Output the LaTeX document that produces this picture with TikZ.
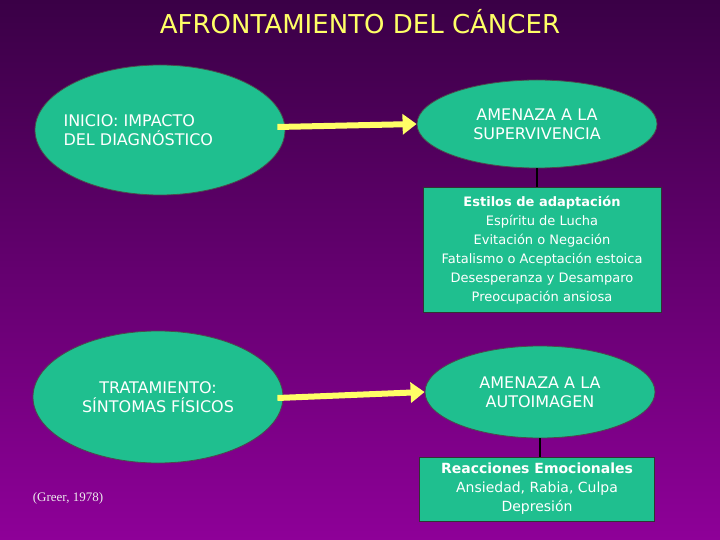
\documentclass[tikz,border=0pt]{standalone}
\usepackage{fontspec}
\setmainfont{DejaVu Sans}
\newfontfamily\serifgreer{Liberation Serif}
\usetikzlibrary{shapes.geometric,arrows.meta}
\definecolor{bgtop}{HTML}{3A0046}
\definecolor{bgbot}{HTML}{8E0098}
\definecolor{teal}{HTML}{1FBF8F}
\definecolor{ttl}{HTML}{FFFF66}
\definecolor{arr}{HTML}{FFFF66}
\tikzset{
 ell/.style={ellipse,fill=teal,draw=black!70,line width=0.8pt,text=white,align=center,font=\fontsize{16}{19}\selectfont,inner sep=0pt},
 bx/.style={rectangle,fill=teal,draw=black!80,line width=1pt,text=white,align=center,inner sep=2pt},
 yarr/.style={draw=arr,line width=6pt,-{Triangle[length=14pt,width=20pt]}},
 lnk/.style={draw=black,line width=1.2pt}
}
\begin{document}
\begin{tikzpicture}[x=1pt,y=-1pt]
\shade[top color=bgtop,bottom color=bgbot] (0,0) rectangle (720,540);
\useasboundingbox (0,0) rectangle (720,540);
\node (title) at (360,22) {\textcolor{ttl}{\fontsize{26}{30}\selectfont AFRONTAMIENTO DEL CÁNCER}};
\node[ell,minimum width=250pt,minimum height=130pt] (e1) at (160,130) {};
\node[text=white,align=left,font=\fontsize{16}{19}\selectfont,anchor=west] (t1) at (60,130) {INICIO: IMPACTO\\DEL DIAGNÓSTICO};
\node[ell,minimum width=240pt,minimum height=88pt] (e2) at (537,124) {AMENAZA A LA\\SUPERVIVENCIA};
\node[bx,minimum width=238pt,minimum height=125pt,font=\fontsize{13}{19}\selectfont] (b1) at (542,250) {{\bfseries Estilos de adaptación}\\Espíritu de Lucha\\Evitación o Negación\\Fatalismo o Aceptación estoica\\Desesperanza y Desamparo\\Preocupación ansiosa};
\node[ell,minimum width=250pt,minimum height=132pt] (e3) at (158,397) {TRATAMIENTO:\\SÍNTOMAS FÍSICOS};
\node[ell,minimum width=230pt,minimum height=92pt] (e4) at (540,392) {AMENAZA A LA\\AUTOIMAGEN};
\node[bx,minimum width=235pt,minimum height=64pt,font=\fontsize{14}{19}\selectfont] (b2) at (537,489) {{\bfseries Reacciones Emocionales}\\Ansiedad, Rabia, Culpa\\Depresión};
\node[text=white!85!gray,font=\serifgreer\fontsize{13}{15}\selectfont] (g) at (68,498) {(Greer, 1978)};
\draw[yarr] (e1.east) ++(-8,-3) coordinate (a1) -- (e2.west);
\draw[yarr] (e3.east) ++(-6,1) coordinate (a2) -- (e4.west);
\draw[lnk] (e2.south) -- (b1.north -| e2.south);
\draw[lnk] (e4.south) -- (b2.north -| e4.south);
\end{tikzpicture}
\end{document}
